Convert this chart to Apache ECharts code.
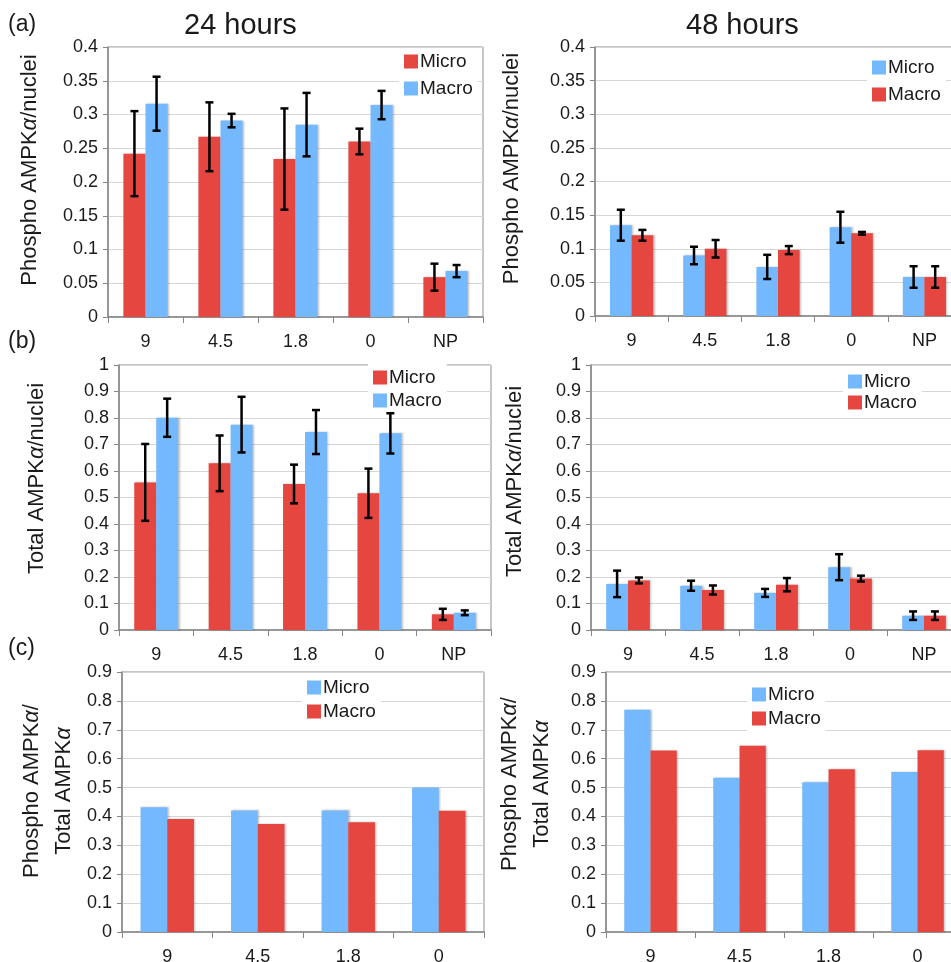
<!DOCTYPE html>
<html>
<head>
<meta charset="utf-8">
<script src="https://cdn.jsdelivr.net/npm/echarts@6/dist/echarts.min.js"></script>
<style>
  html, body { margin: 0; padding: 0; background: #fff; }
  #chart { width: 951px; height: 962px; }
</style>
</head>
<body>
<div id="chart"></div>
<script>
// categories (nanoparticle dose)
const cats5 = ["9", "4.5", "1.8", "0", "NP"];
const cats4 = ["9", "4.5", "1.8", "0"];

// (a) Phospho AMPKa / nuclei, 24 h
const a24Micro = [0.242, 0.267, 0.234, 0.260, 0.059];
const a24MicroErr = [0.063, 0.051, 0.075, 0.019, 0.020];
const a24Macro = [0.316, 0.291, 0.285, 0.314, 0.068];
const a24MacroErr = [0.040, 0.010, 0.047, 0.021, 0.009];
// (a) 48 h
const a48Micro = [0.135, 0.090, 0.073, 0.132, 0.058];
const a48MicroErr = [0.023, 0.013, 0.018, 0.023, 0.016];
const a48Macro = [0.120, 0.100, 0.098, 0.123, 0.058];
const a48MacroErr = [0.008, 0.013, 0.006, 0.002, 0.016];

// (b) Total AMPKa / nuclei, 24 h
const b24Micro = [0.557, 0.629, 0.551, 0.516, 0.059];
const b24MicroErr = [0.145, 0.105, 0.073, 0.093, 0.021];
const b24Macro = [0.801, 0.775, 0.747, 0.742, 0.065];
const b24MacroErr = [0.072, 0.105, 0.083, 0.076, 0.009];
// (b) 48 h
const b48Micro = [0.174, 0.167, 0.140, 0.237, 0.054];
const b48MicroErr = [0.050, 0.019, 0.015, 0.049, 0.016];
const b48Macro = [0.187, 0.151, 0.171, 0.194, 0.054];
const b48MacroErr = [0.011, 0.017, 0.025, 0.011, 0.016];

// (c) ratio phospho / total
const c24Micro = [0.432, 0.421, 0.421, 0.500];
const c24Macro = [0.391, 0.374, 0.380, 0.420];
const c48Micro = [0.769, 0.534, 0.518, 0.554];
const c48Macro = [0.628, 0.645, 0.563, 0.629];

const RED = "#E5463F";
const BLUE = "#74B8FD";
const FONT = "Liberation Sans, Arial, sans-serif";
const GAP = 0.41;

const nameA = "Phospho AMPK{a|α}/nuclei";
const nameB = "Total AMPK{a|α}/nuclei";
const nameC = "Phospho AMPK{a|α}/\nTotal AMPK{a|α}";

// panel layout; micro is red in the 24h a/b panels, blue elsewhere
const panels = [
  { grid: [108, 47, 375, 270], max: 0.4, step: 0.05, cats: cats5, name: nameA, gap: 62, shift: 24,
    micro: a24Micro, microErr: a24MicroErr, macro: a24Macro, macroErr: a24MacroErr, microColor: RED, leg: [399, 48, 8] },
  { grid: [595, 47, 366, 269], max: 0.4, step: 0.05, cats: cats5, name: nameA, gap: 67, shift: 26,
    micro: a48Micro, microErr: a48MicroErr, macro: a48Macro, macroErr: a48MacroErr, microColor: BLUE, leg: [867, 54, 8] },
  { grid: [119, 365, 372, 265], max: 1, step: 0.1, cats: cats5, name: nameB, gap: 66, shift: 38,
    micro: b24Micro, microErr: b24MicroErr, macro: b24Macro, macroErr: b24MacroErr, microColor: RED, leg: [368, 364, 4] },
  { grid: [591, 365, 370, 265], max: 1, step: 0.1, cats: cats5, name: nameB, gap: 60, shift: 32,
    micro: b48Micro, microErr: b48MicroErr, macro: b48Macro, macroErr: b48MacroErr, microColor: BLUE, leg: [843, 368, 2] },
  { grid: [122, 672, 362, 260], max: 0.9, step: 0.1, cats: cats4, name: nameC, gap: 42, shift: 22,
    micro: c24Micro, macro: c24Macro, microColor: BLUE, leg: [302, 674, 5] },
  { grid: [606, 672, 356, 260], max: 0.9, step: 0.1, cats: cats4, name: nameC, gap: 48, shift: 36,
    micro: c48Micro, macro: c48Macro, microColor: BLUE, leg: [747, 681, 5] },
];

function errRender(side) {
  return function (params, api) {
    const i = api.value(0), v = api.value(1), e = api.value(2);
    const band = api.size([1, 0])[0];
    const off = side * band * (1 - GAP) / 4;
    const hi = api.coord([i, v + e]);
    const lo = api.coord([i, v - e]);
    const x = hi[0] + off;
    const style = { stroke: "#000", lineWidth: 2.5 };
    return {
      type: "group",
      children: [
        { type: "line", shape: { x1: x, y1: hi[1], x2: x, y2: lo[1] }, style },
        { type: "line", shape: { x1: x - 4, y1: hi[1], x2: x + 4, y2: hi[1] }, style },
        { type: "line", shape: { x1: x - 4, y1: lo[1], x2: x + 4, y2: lo[1] }, style },
      ],
    };
  };
}

const grids = [], xAxes = [], yAxes = [], series = [], legends = [];

panels.forEach((p, k) => {
  grids.push({
    left: p.grid[0], top: p.grid[1], width: p.grid[2], height: p.grid[3],
    outerBoundsMode: "none", containLabel: false,
    show: true, borderColor: "#8c8c8c", borderWidth: 1, backgroundColor: "transparent",
  });
  xAxes.push({
    type: "category", gridIndex: k, data: p.cats,
    axisLine: { lineStyle: { color: "#868686", width: 1.5 } },
    axisTick: { show: true, length: 6, lineStyle: { color: "#868686" } },
    axisLabel: { color: "#1a1a1a", fontSize: 18, fontFamily: FONT, margin: 16 },
  });
  yAxes.push({
    type: "value", gridIndex: k, min: 0, max: p.max, interval: p.step,
    name: p.name, nameLocation: "middle", nameGap: p.gap, nameRotate: 90,
    nameTextStyle: {
      color: "#1a1a1a", fontSize: 22, fontFamily: FONT, lineHeight: 32,
      padding: [0, 0, 0, p.shift],
      rich: { a: { fontStyle: "italic", fontSize: 22, fontFamily: FONT, color: "#1a1a1a" } },
    },
    axisLine: { show: true, lineStyle: { color: "#868686", width: 1.5 } },
    axisTick: { show: true, length: 5, lineStyle: { color: "#868686" } },
    axisLabel: { color: "#1a1a1a", fontSize: 18, fontFamily: FONT, margin: 10 },
    splitLine: { lineStyle: { color: "#d6d6d6" } },
  });

  const first = p.microColor === RED
    ? { label: "Micro", data: p.micro, err: p.microErr, color: RED }
    : { label: "Micro", data: p.micro, err: p.microErr, color: BLUE };
  const second = p.microColor === RED
    ? { label: "Macro", data: p.macro, err: p.macroErr, color: BLUE }
    : { label: "Macro", data: p.macro, err: p.macroErr, color: RED };

  [first, second].forEach((s, j) => {
    const sname = s.label + "#" + k;
    series.push({
      type: "bar", name: sname, xAxisIndex: k, yAxisIndex: k,
      data: s.data, barGap: 0, barCategoryGap: (GAP * 100) + "%",
      itemStyle: { color: s.color, shadowColor: "rgba(0,0,0,0.25)", shadowOffsetX: 1.5, shadowBlur: 2 },
      emphasis: { disabled: true }, animation: false,
    });
    if (s.err) {
      series.push({
        type: "custom", xAxisIndex: k, yAxisIndex: k, z: 10,
        renderItem: errRender(j === 0 ? -1 : 1),
        data: s.data.map((v, i) => [i, v, s.err[i]]),
        animation: false, silent: true,
      });
    }
  });

  legends.push({
    left: p.leg[0], top: p.leg[1], orient: "vertical",
    data: [first.label + "#" + k, second.label + "#" + k],
    formatter: (n) => n.split("#")[0],
    icon: "rect", itemWidth: 14, itemHeight: 14, itemGap: p.leg[2],
    padding: [4, 5, 4, 5], backgroundColor: "#fff",
    textStyle: { fontSize: 19, fontFamily: FONT, color: "#1a1a1a", padding: [0, 0, 0, -3] },
    selectedMode: false,
  });
});

const titleStyle = { fontFamily: FONT, fontWeight: "normal", color: "#1a1a1a" };
const titles = [
  { text: "(a)", left: 8, top: 13, padding: 0, textStyle: { ...titleStyle, fontSize: 23 } },
  { text: "24 hours", left: 184, top: 11, padding: 0, textStyle: { ...titleStyle, fontSize: 29 } },
  { text: "48 hours", left: 686, top: 11, padding: 0, textStyle: { ...titleStyle, fontSize: 29 } },
  { text: "(b)", left: 8, top: 330, padding: 0, textStyle: { ...titleStyle, fontSize: 23 } },
  { text: "(c)", left: 8, top: 637, padding: 0, textStyle: { ...titleStyle, fontSize: 23 } },
];

const chart = echarts.init(document.getElementById("chart"));
chart.setOption({
  animation: false,
  backgroundColor: "#fff",
  title: titles,
  grid: grids,
  xAxis: xAxes,
  yAxis: yAxes,
  legend: legends,
  series: series,
});
</script>
</body>
</html>
